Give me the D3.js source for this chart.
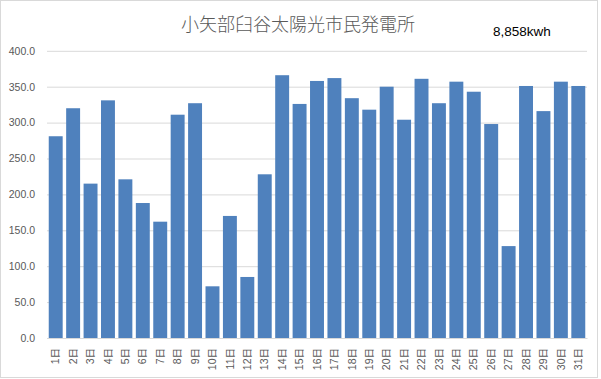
<!DOCTYPE html>
<html><head><meta charset="utf-8">
<script src="https://cdn.jsdelivr.net/npm/d3@7"></script>
<style>body{margin:0;background:#fff}svg{display:block}</style>
</head><body>
<svg id="c" width="601" height="379"></svg>
<script>
const title = "小矢部臼谷太陽光市民発電所";
const totalLabel = "8,858kwh";
const days = Array.from({length:31}, (_, i) => (i + 1) + "日");
const values = [281, 320, 215, 331, 221, 188, 162, 311, 327, 72, 170, 85, 228, 366, 326, 358, 362, 334, 318, 350, 304, 361, 327, 357, 343, 298, 128, 351, 316, 357, 351];
const yTicks = [0, 50, 100, 150, 200, 250, 300, 350, 400];

const svg = d3.select("#c");
const m = {l:47, r:587, t:50.8, b:338};
svg.append("rect").attr("x",0.5).attr("y",0.5).attr("width",597).attr("height",377)
  .attr("fill","#fff").attr("stroke","#d9d9d9");

const x = d3.scaleBand().domain(days).range([m.l, m.r]).paddingInner(0.2).paddingOuter(0.1);
const y = d3.scaleLinear().domain([0, 400]).range([m.b, m.t]);

const yAxis = d3.axisLeft(y).tickValues(yTicks).tickSize(-(m.r - m.l)).tickPadding(12).tickFormat(d3.format(".1f"));
const gy = svg.append("g").attr("transform", `translate(${m.l},0)`).call(yAxis);
gy.select(".domain").remove();
gy.selectAll("line").attr("stroke","#d9d9d9");
gy.selectAll("text").attr("fill","#595959").style("font-family","'Liberation Sans', Arial, sans-serif").style("font-size","10.5px");

svg.append("g").selectAll("rect").data(values).join("rect")
  .attr("x", (d,i) => x(days[i])).attr("width", x.bandwidth())
  .attr("y", d => y(d)).attr("height", d => y(0) - y(d)).attr("fill","#4f81bd");

const xAxis = d3.axisBottom(x).tickSize(0).tickPadding(0);
const gx = svg.append("g").attr("transform", `translate(0,${m.b})`).call(xAxis);
gx.select(".domain").attr("stroke","#d9d9d9");
gx.selectAll("text").attr("transform","rotate(-90)").attr("text-anchor","end")
  .attr("x",-10).attr("y",0).attr("dy","0.35em")
  .attr("fill","#595959").style("font-family","'Liberation Sans', Arial, 'Noto Sans CJK JP', sans-serif").style("font-size","10.5px");

svg.append("text").attr("x",298).attr("y",31).attr("text-anchor","middle")
  .attr("fill","#595959").style("font-family","'Noto Sans CJK JP', sans-serif").style("font-weight","300").style("font-size","18px").text(title);
svg.append("text").attr("x",493).attr("y",36)
  .attr("fill","#000").style("font-family","'Liberation Sans', Arial, sans-serif").style("font-size","13.5px").text(totalLabel);
</script>
</body></html>
